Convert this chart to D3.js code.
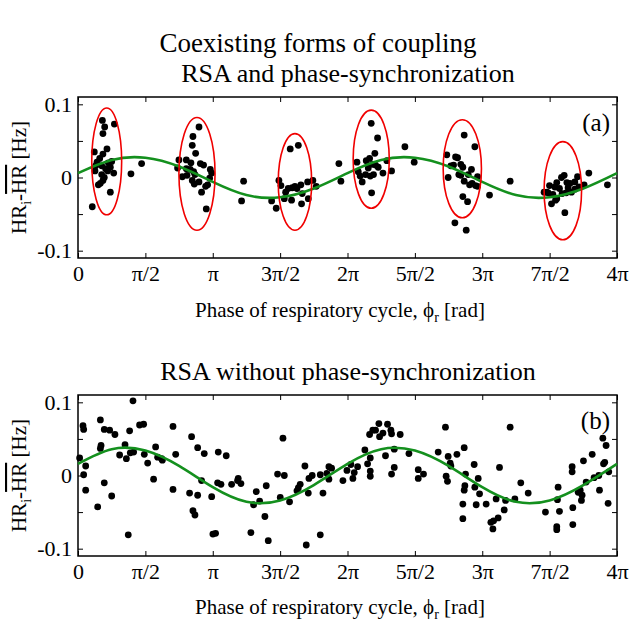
<!DOCTYPE html>
<html>
<head>
<meta charset="utf-8">
<script src="https://cdn.jsdelivr.net/npm/d3@7"></script>
<style>
  body { margin: 0; background: #fff; }
  text { font-family: "Liberation Serif", "Times New Roman", serif; fill: #000; }
</style>
</head>
<body>
<svg id="chart" width="631" height="622"></svg>
<script>
// phase is in multiples of pi, HR deviation in Hz

const xTicks = [0, 0.5, 1, 1.5, 2, 2.5, 3, 3.5, 4];
const xTickLabels = ["0", "π/2", "π", "3π/2", "2π", "5π/2", "3π", "7π/2", "4π"];
const yTicks = [-0.1, -0.05, 0, 0.05, 0.1];
const yTickLabels = ["-0.1", "", "0", "", "0.1"];

// fitted sine, read every pi/4
const fitPhase = [0, 0.25, 0.5, 0.75, 1, 1.25, 1.5, 1.75, 2, 2.25, 2.5, 2.75, 3, 3.25, 3.5, 3.75, 4];
const fitA = [0.006, 0.024, 0.027, 0.015, -0.006, -0.024, -0.027, -0.015, 0.006, 0.024, 0.027, 0.015, -0.006, -0.024, -0.027, -0.015, 0.006];
const fitB = [0.016, 0.036, 0.034, 0.013, -0.016, -0.036, -0.034, -0.013, 0.016, 0.036, 0.034, 0.013, -0.016, -0.036, -0.034, -0.013, 0.016];

// panel (a) points
const phaseA = [
  0.181, 0.198, 0.270, 0.185, 0.215, 0.121, 0.185, 0.161, 0.141, 0.250, 0.225, 0.131, 0.176, 0.240, 0.205, 0.126, 0.265, 0.176, 0.195, 0.185, 0.166, 0.151, 0.240, 0.106, 0.220,
  0.393, 0.472,
  0.898, 0.853, 0.848, 0.873, 0.749, 0.804, 0.838, 0.739, 0.908, 0.932, 0.982, 0.804, 0.858, 0.774, 0.809, 0.868, 0.992, 0.977, 0.848, 0.898, 0.863, 0.962, 0.947, 0.917, 0.952, 0.833,
  1.229, 1.214,
  1.575, 1.635, 1.491, 1.506, 1.541, 1.590, 1.610, 1.625, 1.654, 1.704, 1.743, 1.768, 1.664, 1.585, 1.531, 1.437, 1.471, 1.659, 1.709, 1.560,
  1.936, 1.951,
  2.176, 2.223, 2.203, 2.164, 2.139, 2.070, 2.292, 2.184, 2.208, 2.228, 2.080, 2.094, 2.134, 2.169, 2.193, 2.263, 2.327, 2.109, 2.179, 2.154,
  2.426, 2.495,
  2.866, 2.945, 2.737, 2.802, 2.817, 2.767, 2.787, 2.841, 2.856, 2.920, 2.826, 2.841, 2.747, 2.965, 2.866, 2.906, 2.925, 2.950, 2.965, 2.856, 2.891, 2.797, 2.881, 2.896,
  3.207, 3.054, 3.929, 3.791,
  3.608, 3.588, 3.707, 3.687, 3.628, 3.652, 3.553, 3.539, 3.499, 3.573, 3.459, 3.489, 3.524, 3.593, 3.623, 3.662, 3.687, 3.717, 3.756, 3.544, 3.514, 3.613, 3.553, 3.479, 3.637
];
const hrA = [
  0.078, 0.069, 0.073, 0.060, 0.039, 0.035, 0.032, 0.026, 0.021, 0.022, 0.020, 0.016, 0.016, 0.014, 0.012, 0.009, 0.006, 0.004, 0.000, -0.004, -0.008, -0.010, -0.020, -0.040, 0.009,
  0.005, 0.019,
  0.069, 0.056, 0.044, 0.033, 0.024, 0.024, 0.020, 0.013, 0.019, 0.017, 0.011, 0.012, 0.008, 0.001, 0.003, 0.004, 0.006, -0.001, -0.004, -0.006, -0.009, -0.010, -0.012, -0.020, -0.043, 0.011,
  -0.005, -0.032,
  0.039, 0.044, -0.004, -0.011, -0.020, -0.014, -0.012, -0.015, -0.010, -0.006, -0.004, -0.012, -0.022, -0.031, -0.029, -0.032, -0.042, -0.036, -0.029, -0.015,
  0.019, -0.005,
  0.074, 0.054, 0.033, 0.026, 0.023, 0.021, 0.023, 0.018, 0.017, 0.014, 0.008, 0.002, 0.004, 0.002, 0.004, 0.006, 0.009, -0.006, -0.021, 0.013,
  0.042, 0.021,
  0.058, 0.042, 0.031, 0.028, 0.027, 0.016, 0.017, 0.018, 0.014, 0.011, 0.004, 0.003, 0.000, 0.001, -0.005, -0.010, -0.008, -0.011, -0.012, -0.026, -0.033, -0.062, -0.072, 0.004,
  -0.005, -0.024, -0.010, 0.006,
  0.003, 0.000, 0.001, -0.006, -0.007, -0.008, -0.007, -0.013, -0.011, -0.015, -0.020, -0.021, -0.023, -0.022, -0.021, -0.020, -0.016, -0.013, -0.010, -0.031, -0.036, -0.048, -0.029, -0.020, -0.014
];

// red ellipses around the synchronized clusters: centre phase, centre HR, half widths
const ellPhase = [0.213, 0.883, 1.610, 2.176, 2.852, 3.598];
const ellHr = [0.022, 0.005, -0.006, 0.025, 0.012, -0.018];
const ellHalfPhase = [0.111, 0.134, 0.124, 0.134, 0.142, 0.139];
const ellHalfHr = [0.073, 0.077, 0.066, 0.067, 0.067, 0.067];

// panel (b) points
const phaseB = [
  0.012, 0.037, 0.042, 0.057, 0.042, 0.057, 0.166, 0.195, 0.235, 0.274, 0.171, 0.166, 0.195, 0.146, 0.250, 0.309, 0.349, 0.359, 0.383, 0.388,
  0.413, 0.408, 0.373, 0.457, 0.487, 0.492, 0.517, 0.561, 0.576, 0.591, 0.621, 0.626, 0.705, 0.725, 0.705, 0.828, 0.843, 0.853, 0.868, 0.888,
  0.888, 0.917, 0.937, 0.992, 1.001, 1.021, 1.041, 1.036, 1.061, 1.100, 1.140, 1.184, 1.189, 1.209, 1.283, 1.303, 1.323,
  1.348, 1.387, 1.397, 1.412, 1.481, 1.501, 1.521, 1.531, 1.570, 1.625, 1.635, 1.649, 1.684, 1.709, 1.714, 1.738, 1.694, 1.798, 1.798, 1.818,
  1.847, 1.862, 1.862, 1.882, 1.966, 1.996, 2.025, 2.040, 2.050, 2.075, 2.129, 2.149, 2.169, 2.169, 2.169, 2.164, 2.188, 2.208, 2.233, 2.238,
  2.263, 2.297, 2.322, 2.327, 2.282, 2.347, 2.347, 2.327, 2.391, 2.456, 2.525, 2.525, 2.564, 2.673,
  2.727, 2.747, 2.762, 2.767, 2.812, 2.866, 2.732, 2.742, 2.876, 2.871, 2.866, 2.940, 2.970, 2.945, 2.980, 2.856, 2.856, 2.955, 3.029, 3.103,
  3.128, 3.118, 3.084, 3.064, 3.079, 3.163, 3.173, 3.207, 3.242, 3.286, 3.341, 3.469, 3.558, 3.563, 3.573, 3.553, 3.553, 3.667, 3.667, 3.672,
  3.672, 3.712, 3.727, 3.741, 3.736, 3.751, 3.771, 3.816, 3.830, 3.865, 3.870, 3.895, 3.919, 3.900, 3.909, 3.939, 3.934
];
const hrB = [
  0.024, 0.068, 0.063, 0.013, 0.001, -0.020, 0.076, 0.063, 0.062, 0.056, 0.041, 0.037, -0.010, -0.043, -0.028, 0.028, 0.042, 0.023, 0.061, 0.031,
  0.032, 0.102, -0.081, 0.069, 0.070, 0.029, 0.017, -0.005, 0.039, 0.025, 0.023, 0.021, 0.067, 0.029, -0.019, -0.024, 0.053, -0.048, -0.054, 0.038,
  -0.027, -0.007, 0.030, -0.029, -0.080, -0.079, 0.032, -0.010, -0.012, 0.027, -0.012, -0.007, -0.004, -0.011, -0.078, -0.040, -0.022,
  -0.035, -0.056, -0.014, -0.089, 0.002, -0.030, 0.051, 0.000, -0.036, -0.021, -0.017, -0.012, 0.013, -0.024, -0.004, 0.000, -0.095, 0.001, -0.081, -0.024,
  0.003, -0.005, 0.012, 0.010, -0.007, 0.007, 0.015, -0.004, 0.004, 0.012, 0.035, 0.016, 0.024, 0.006, -0.001, 0.056, 0.062, 0.062, 0.071, 0.053,
  0.058, 0.070, 0.062, 0.057, 0.027, 0.036, 0.011, 0.002, 0.056, 0.030, 0.008, -0.004, 0.002, 0.032,
  0.066, 0.026, 0.017, 0.013, 0.029, 0.038, -0.001, -0.008, 0.002, -0.014, -0.020, 0.015, -0.004, -0.016, -0.025, -0.039, -0.059, -0.040, -0.039, -0.032,
  0.011, -0.058, -0.062, -0.064, -0.073, -0.047, -0.034, 0.066, -0.032, -0.010, -0.024, -0.050, -0.033, -0.016, -0.049, -0.070, -0.074, 0.012, 0.005, -0.044,
  -0.067, -0.023, -0.020, -0.027, -0.034, 0.020, -0.009, 0.029, -0.003, 0.000, -0.020, 0.051, 0.041, 0.016, 0.018, 0.005, -0.038
];

const svg = d3.select("#chart");
const left = 78, right = 617;

const x = d3.scaleLinear().domain([0, 4]).range([left, right]);

svg.append("text")
  .attr("x", 318).attr("y", 52)
  .attr("text-anchor", "middle")
  .style("font-size", "27px")
  .text("Coexisting forms of coupling");

const panels = [
  { top: 97, bottom: 258, title: "RSA and phase-synchronization", titleY: 82, tag: "(a)",
    phase: phaseA, hr: hrA, fit: fitA, ellipses: true, labelY: 317 },
  { top: 395, bottom: 556, title: "RSA without phase-synchronization", titleY: 380, tag: "(b)",
    phase: phaseB, hr: hrB, fit: fitB, ellipses: false, labelY: 614 }
];

panels.forEach(function(p) {
  const y = d3.scaleLinear().domain([-0.11, 0.11]).range([p.bottom, p.top]);
  const g = svg.append("g");

  g.append("text")
    .attr("x", 348).attr("y", p.titleY)
    .attr("text-anchor", "middle")
    .style("font-size", "26px")
    .text(p.title);

  // axes, ticks pointing inward
  const bottomAxis = g.append("g")
    .attr("transform", "translate(0," + p.bottom + ")")
    .call(d3.axisBottom(x).tickValues(xTicks).tickSize(-5).tickPadding(7)
      .tickFormat(function(d, i) { return xTickLabels[i]; }));
  const topAxis = g.append("g")
    .attr("transform", "translate(0," + p.top + ")")
    .call(d3.axisTop(x).tickValues(xTicks).tickSize(-5).tickFormat(""));
  const leftAxis = g.append("g")
    .attr("transform", "translate(" + left + ",0)")
    .call(d3.axisLeft(y).tickValues(yTicks).tickSize(-5).tickPadding(6)
      .tickFormat(function(d, i) { return yTickLabels[i]; }));
  const rightAxis = g.append("g")
    .attr("transform", "translate(" + right + ",0)")
    .call(d3.axisRight(y).tickValues(yTicks).tickSize(-5).tickFormat(""));

  [bottomAxis, topAxis, leftAxis, rightAxis].forEach(function(a) {
    a.select(".domain").remove();
    a.selectAll("line").attr("stroke", "#000").attr("stroke-width", 1);
    a.selectAll("text")
      .style("font-family", '"Liberation Serif", "Times New Roman", serif')
      .style("font-size", "22px")
      .attr("fill", "#000");
  });

  g.append("rect")
    .attr("x", left).attr("y", p.top)
    .attr("width", right - left).attr("height", p.bottom - p.top)
    .attr("fill", "none").attr("stroke", "#000").attr("stroke-width", 1.5);

  // dots
  g.append("g").selectAll("circle")
    .data(p.phase)
    .join("circle")
    .attr("cx", function(d) { return x(d); })
    .attr("cy", function(d, i) { return y(p.hr[i]); })
    .attr("r", 3.4)
    .attr("fill", "#000");

  // fitted curve
  const line = d3.line()
    .x(function(d, i) { return x(fitPhase[i]); })
    .y(function(d) { return y(d); })
    .curve(d3.curveNatural);
  g.append("path")
    .attr("d", line(p.fit))
    .attr("fill", "none")
    .attr("stroke", "#14901e")
    .attr("stroke-width", 2.6);

  if (p.ellipses) {
    g.append("g").selectAll("ellipse")
      .data(ellPhase)
      .join("ellipse")
      .attr("cx", function(d) { return x(d); })
      .attr("cy", function(d, i) { return y(ellHr[i]); })
      .attr("rx", function(d, i) { return x(ellHalfPhase[i]) - x(0); })
      .attr("ry", function(d, i) { return y(0) - y(ellHalfHr[i]); })
      .attr("fill", "none")
      .attr("stroke", "#f00000")
      .attr("stroke-width", 1.6);
  }

  g.append("text")
    .attr("x", 610).attr("y", p.top + 34)
    .attr("text-anchor", "end")
    .style("font-size", "25px")
    .text(p.tag);

  // y label
  const yl = g.append("text")
    .attr("transform", "translate(26," + y(0) + ") rotate(-90)")
    .attr("text-anchor", "middle")
    .style("font-size", "21px");
  yl.append("tspan").text("HR");
  yl.append("tspan").attr("baseline-shift", "-35%").style("font-size", "14px").text("i");
  yl.append("tspan").text("-");
  yl.append("tspan").style("text-decoration", "overline").text("HR");
  yl.append("tspan").text(" [Hz]");

  // x label
  const xl = g.append("text")
    .attr("x", 340).attr("y", p.labelY)
    .attr("text-anchor", "middle")
    .style("font-size", "21px");
  xl.append("tspan").text("Phase of respiratory cycle, ϕ");
  xl.append("tspan").attr("baseline-shift", "-35%").style("font-size", "14px").text("r");
  xl.append("tspan").text(" [rad]");
});
</script>
</body>
</html>
